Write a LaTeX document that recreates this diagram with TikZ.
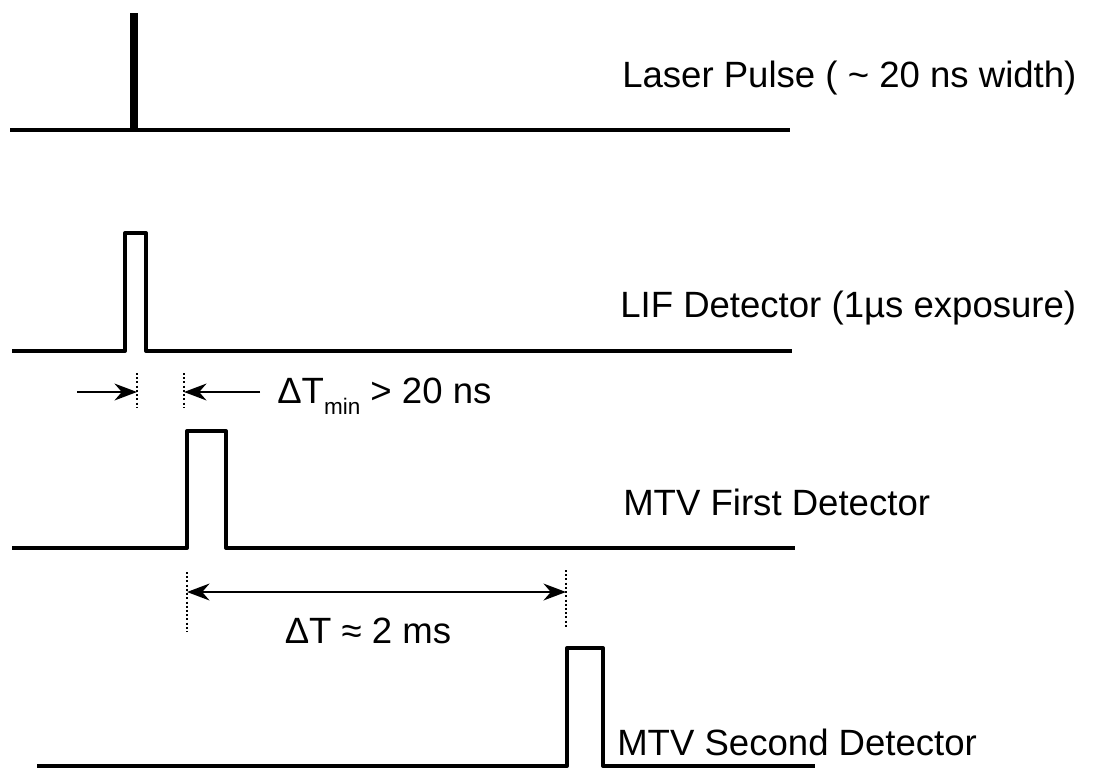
\documentclass[tikz,border=0pt]{standalone}
\usepackage{fontspec}
\setmainfont{Liberation Sans}
\usetikzlibrary{arrows.meta}

\tikzset{
  trace/.style={line width=2.8pt, line join=round},
  guide/.style={line width=1.4pt, dash pattern=on 1.4pt off 1.6pt},
  dimarrow/.style={line width=1.5pt, -{Stealth[length=16pt,width=12pt]}},
  tag/.style={anchor=base west, inner sep=0pt, font=\fontsize{26}{30}\selectfont}
}

\begin{document}
\begin{tikzpicture}[x=0.025cm, y=-0.025cm]
\useasboundingbox (0,0) rectangle (1102,772);

% laser pulse
\draw[trace] (10,130) -- (790,130);
\draw[line width=5.7pt] (134,130) -- (134,13);
\node[tag] (laser) at (622,87) {Laser Pulse ( \textasciitilde\ 20 ns width)};

% LIF detector
\draw[trace] (12,351) -- (125,351) -- (125,233) -- (146,233) -- (146,351) -- (792,351);
\node[tag] (lif) at (620,317) {LIF Detector (1µs exposure)};

% first MTV detector
\draw[trace] (12,548) -- (187,548) -- (187,431) -- (226,431) -- (226,548) -- (795,548);
\node[tag] (mtv1) at (623,515) {MTV First Detector};

% second MTV detector
\draw[trace] (37,766) -- (567,766) -- (567,648) -- (603,648) -- (603,766) -- (815,766);
\node[tag] (mtv2) at (617,755) {MTV Second Detector};

% minimum delay
\coordinate (lifend) at (137,392);
\coordinate (mtvstart) at (184,392);
\draw[guide] (137,373) -- (137,408);
\draw[guide] (184,373) -- (184,408);
\coordinate (inleft) at (77,392);
\coordinate (inright) at (260,392);
\draw[dimarrow] (inleft) -- (lifend);
\draw[dimarrow] (inright) -- (mtvstart);
\node[tag] (dtmin) at (277,403) {ΔT\raisebox{-8.5pt}{\fontsize{16}{16}\selectfont min} > 20 ns};

% delay between detectors
\coordinate (first) at (187,592);
\coordinate (second) at (566,592);
\draw[guide] (187,572) -- (187,632);
\draw[guide] (566,570) -- (566,627);
\draw[dimarrow, {Stealth[length=16pt,width=12pt]}-{Stealth[length=16pt,width=12pt]}] (first) -- (second);
\node[tag, anchor=base] (dt) at (368,643) {ΔT ≈ 2 ms};
\end{tikzpicture}
\end{document}
